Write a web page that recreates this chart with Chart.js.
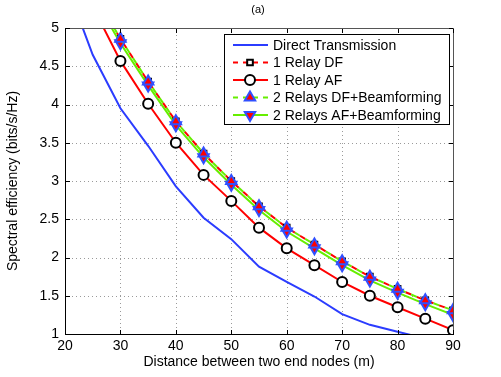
<!DOCTYPE html>
<html>
<head>
<meta charset="utf-8">
<script src="https://cdn.jsdelivr.net/npm/chart.js@4.4.0/dist/chart.umd.min.js"></script>
<style>
  html, body { margin: 0; padding: 0; background: #fff; }
  #wrap { width: 501px; height: 377px; }
</style>
</head>
<body>
<div id="wrap"><canvas id="c" width="501" height="377"></canvas></div>
<script>
// distance (m)
const distances = [20, 25, 30, 35, 40, 45, 50, 55, 60, 65, 70, 75, 80, 85, 90];
// spectral efficiency (bits/s/Hz)
const direct   = [5.62, 4.65, 3.95, 3.46, 2.93, 2.52, 2.24, 1.88, 1.68, 1.49, 1.26, 1.12, 1.03, 0.94, 0.86];
const relay1DF = [null, 5.48, 4.86, 4.30, 3.78, 3.36, 3.00, 2.67, 2.39, 2.17, 1.95, 1.75, 1.59, 1.44, 1.31];
const relay1AF = [null, 5.28, 4.57, 4.01, 3.50, 3.08, 2.74, 2.39, 2.12, 1.90, 1.68, 1.50, 1.35, 1.20, 1.05];
const relay2DF = [null, 5.48, 4.86, 4.30, 3.78, 3.36, 3.00, 2.67, 2.39, 2.17, 1.95, 1.75, 1.59, 1.44, 1.31];
const relay2AF = [null, 5.43, 4.80, 4.25, 3.73, 3.31, 2.95, 2.62, 2.34, 2.12, 1.90, 1.70, 1.54, 1.39, 1.25];

const xTicks = [20, 30, 40, 50, 60, 70, 80, 90];
const yTicks = [1, 1.5, 2, 2.5, 3, 3.5, 4, 4.5, 5];

const FONT = "'Liberation Sans', Arial, sans-serif";
const BLUE = "#2b3cff";
const RED = "#ff0000";
const GREEN = "#66ee00";
const MBLUE = "#3050ff";

function pts(arr) {
  return distances.map((x, i) => ({ x: x, y: arr[i] }));
}
// markers only from 30 m on
function rad(r) {
  return ctx => (distances[ctx.dataIndex] >= 30 ? r : 0);
}

const series = [
  { label: "Direct Transmission", data: pts(direct), borderColor: BLUE, borderWidth: 2,
    pointRadius: 0, order: 5, marker: null },
  { label: "1 Relay DF", data: pts(relay1DF), borderColor: RED, borderWidth: 2, borderDash: [6, 6],
    pointStyle: "rect", pointRadius: rad(4), pointBackgroundColor: "#fff", pointBorderColor: "#000",
    pointBorderWidth: 2, order: 3, marker: { style: "rect", r: 4, fill: "#fff", stroke: "#000", rot: 0 } },
  { label: "1 Relay AF", data: pts(relay1AF), borderColor: RED, borderWidth: 2,
    pointStyle: "circle", pointRadius: rad(5), pointBackgroundColor: "#fff", pointBorderColor: "#000",
    pointBorderWidth: 2, order: 4, marker: { style: "circle", r: 5, fill: "#fff", stroke: "#000", rot: 0 } },
  { label: "2 Relays DF+Beamforming", data: pts(relay2DF), borderColor: GREEN, borderWidth: 2, borderDash: [6, 6],
    borderDashOffset: 6,
    pointStyle: "triangle", pointRadius: rad(6), pointBackgroundColor: RED, pointBorderColor: MBLUE,
    pointBorderWidth: 2, order: 1, marker: { style: "triangle", r: 6, fill: RED, stroke: MBLUE, rot: 0 } },
  { label: "2 Relays AF+Beamforming", data: pts(relay2AF), borderColor: GREEN, borderWidth: 2,
    pointStyle: "triangle", pointRotation: 180, pointRadius: rad(6), pointBackgroundColor: RED,
    pointBorderColor: MBLUE, pointBorderWidth: 2, order: 2,
    marker: { style: "triangle", r: 6, fill: RED, stroke: MBLUE, rot: 180 } }
];

const boxPlugin = {
  id: "box",
  beforeDatasetsDraw(chart) {
    // dotted grid, drawn as single pixels
    const a = chart.chartArea, c = chart.ctx;
    const xs = chart.scales.x, ys = chart.scales.y;
    const l = Math.round(a.left), t = Math.round(a.top), r = Math.round(a.right), b = Math.round(a.bottom);
    c.save();
    c.fillStyle = "#9a9a9a";
    xTicks.slice(1, -1).forEach(v => {
      const px = Math.round(xs.getPixelForValue(v));
      for (let y = b - 3; y > t; y -= 4) c.fillRect(px, y, 1, 1);
    });
    yTicks.slice(1, -1).forEach(v => {
      const py = Math.round(ys.getPixelForValue(v));
      for (let x = l + 3; x < r; x += 4) c.fillRect(x, py, 1, 1);
    });
    c.restore();
  },
  afterDraw(chart) {
    const a = chart.chartArea, c = chart.ctx;
    const xs = chart.scales.x, ys = chart.scales.y;
    const l = Math.round(a.left), t = Math.round(a.top), r = Math.round(a.right), b = Math.round(a.bottom);
    c.save();
    // axes box
    c.fillStyle = "#555";
    c.fillRect(l, t, r - l + 1, 1);
    c.fillRect(r, t, 1, b - t + 1);
    c.fillStyle = "#000";
    c.fillRect(l, t, 1, b - t + 1);
    c.fillRect(l, b, r - l + 1, 1);
    // inward ticks
    xTicks.forEach(v => {
      const px = Math.round(xs.getPixelForValue(v));
      c.fillRect(px, b - 4, 1, 4);
      c.fillRect(px, t + 1, 1, 4);
    });
    yTicks.forEach(v => {
      const py = Math.round(ys.getPixelForValue(v));
      c.fillRect(l + 1, py, 4, 1);
      c.fillRect(r - 4, py, 4, 1);
    });

    // title
    c.fillStyle = "#000";
    c.font = "11px " + FONT;
    c.textAlign = "center";
    c.textBaseline = "middle";
    c.fillText("(a)", 258, 10);
    // legend
    const bx = 224, by = 34, bw = 225, bh = 90;
    c.fillStyle = "#000";
    c.fillRect(bx, by, bw + 1, bh + 1);
    c.fillStyle = "#fff";
    c.fillRect(bx + 1, by + 1, bw - 1, bh - 1);
    c.font = "14px " + FONT;
    c.textAlign = "left";
    series.forEach((s, i) => {
      const y = by + 11 + i * 17.5;
      c.save();
      c.strokeStyle = s.borderColor;
      c.lineWidth = 2;
      c.setLineDash(s.borderDash ? [5, 5] : []);
      c.beginPath();
      c.moveTo(bx + 9, y); c.lineTo(bx + 44, y);
      c.stroke();
      c.restore();
      if (s.marker) {
        const m = s.marker;
        c.save();
        c.setLineDash([]);
        c.fillStyle = m.fill;
        c.strokeStyle = m.stroke;
        c.lineWidth = 2;
        Chart.helpers.drawPoint(c, { pointStyle: m.style, radius: m.r, rotation: m.rot, borderWidth: 2 },
          bx + 26, y);
        c.restore();
      }
      c.fillStyle = "#000";
      c.fillText(s.label, bx + 49, y + 1);
    });
    c.restore();
  }
};

new Chart(document.getElementById("c"), {
  type: "line",
  data: {
    datasets: series.map(s => Object.assign({ fill: false, tension: 0, spanGaps: false }, s))
  },
  options: {
    responsive: false,
    animation: false,
    layout: { padding: { top: 28, right: 48, left: 0, bottom: 0 } },
    plugins: { legend: { display: false }, tooltip: { enabled: false } },
    scales: {
      x: {
        type: "linear", min: 20, max: 90,
        afterBuildTicks: s => { s.ticks = xTicks.map(v => ({ value: v })); },
        afterFit: s => { s.height = 43; },
        grid: { display: true, color: "rgba(0,0,0,0)", drawTicks: false },
        border: { display: false },
        ticks: { color: "#000", font: { family: FONT, size: 14 }, padding: 4, maxRotation: 0,
          callback: v => String(v) },
        title: { display: true, text: "Distance between two end nodes (m)", color: "#000",
          font: { family: FONT, size: 14 }, padding: { top: 0, bottom: 6 } }
      },
      y: {
        type: "linear", min: 1, max: 5,
        afterBuildTicks: s => { s.ticks = yTicks.map(v => ({ value: v })); },
        afterFit: s => { s.width = 65; },
        grid: { display: true, color: "rgba(0,0,0,0)", drawTicks: false },
        border: { display: false },
        ticks: { color: "#000", font: { family: FONT, size: 14 }, padding: 6,
          callback: v => String(v) },
        title: { display: true, text: "Spectral efficiency (bits/s/Hz)", color: "#000",
          font: { family: FONT, size: 14 }, padding: { top: 5, bottom: 0 } }
      }
    }
  },
  plugins: [boxPlugin]
});
</script>
</body>
</html>
